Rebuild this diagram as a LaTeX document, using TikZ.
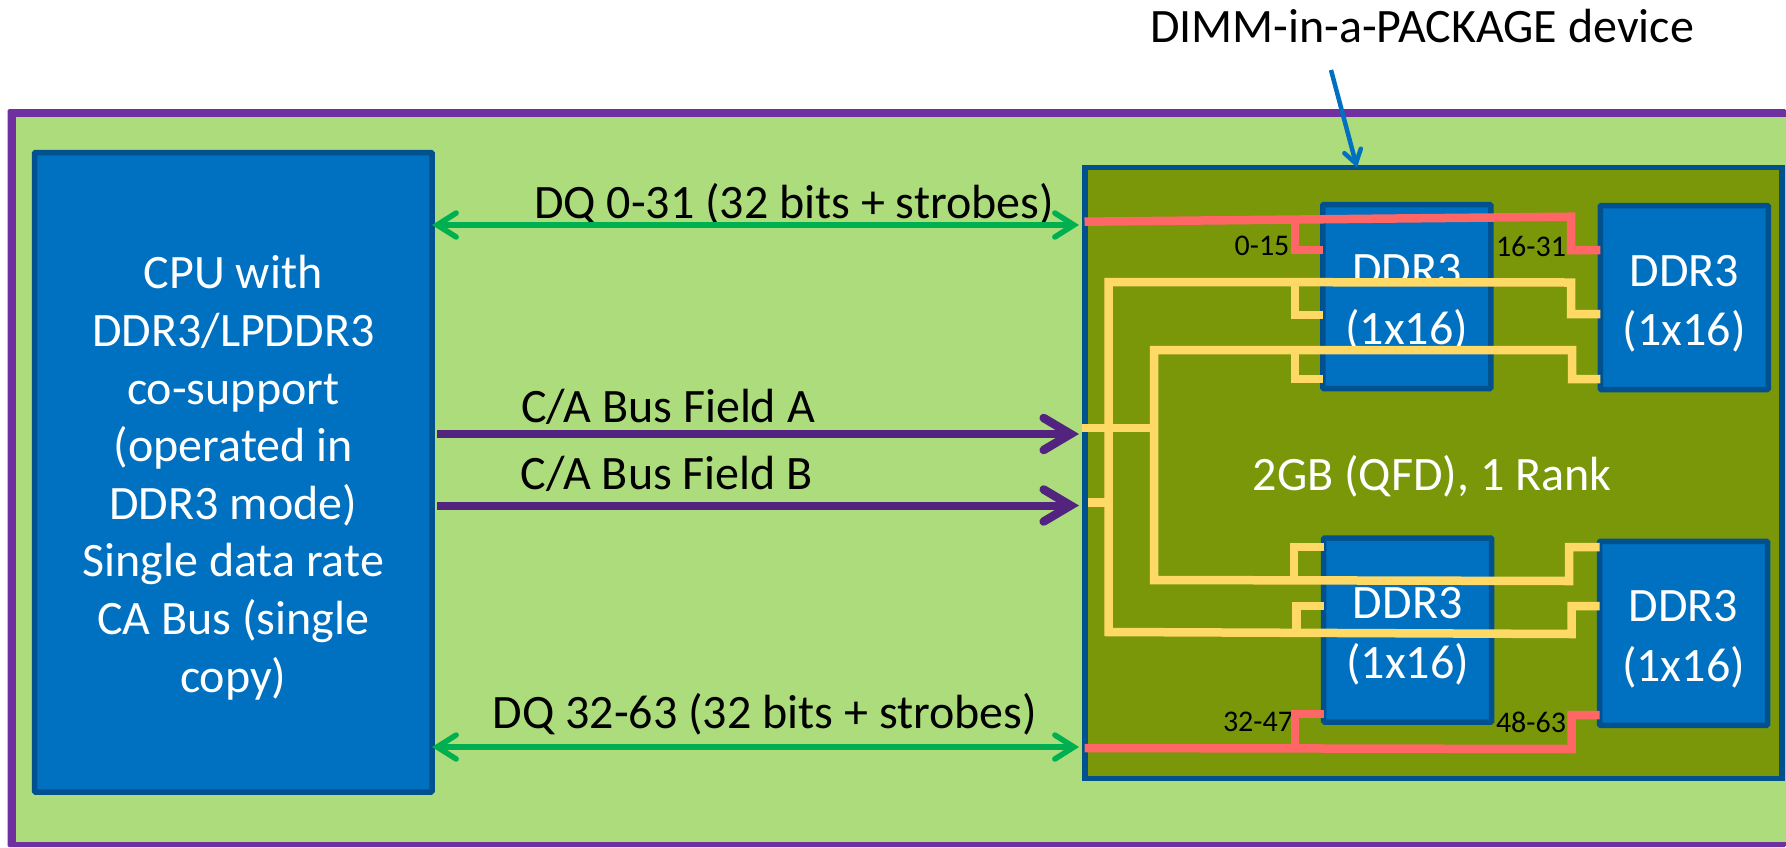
\documentclass[tikz,border=0pt]{standalone}
\usepackage{fontspec}
\setmainfont{Carlito}
\usetikzlibrary{arrows.meta}
\definecolor{bgreen}{HTML}{ACDC7B}
\definecolor{bpurple}{HTML}{7030A0}
\definecolor{cblue}{HTML}{0070C0}
\definecolor{cedge}{HTML}{00518E}
\definecolor{olive}{HTML}{7A970A}
\definecolor{redbus}{HTML}{FF6666}
\definecolor{yelbus}{HTML}{FFD966}
\definecolor{dqgreen}{HTML}{00B050}
\definecolor{cagray}{HTML}{522480}
\tikzset{
  chip/.style={draw=cedge,fill=cblue,line width=5.5pt,rounded corners=1pt,outer sep=0pt,inner sep=0pt},
  chiptext/.style={inner sep=0pt,text=white,align=center,font=\fontsize{48}{57.6}\selectfont,yshift=-5.5pt},
  ddrtext/.style={inner sep=0pt,text=white,align=center,font=\fontsize{48}{59.5}\selectfont,yshift=-6pt},
  ddr/.style={chip,minimum width=168pt,minimum height=184pt},
  lbl/.style={inner sep=0pt,font=\fontsize{48}{58}\selectfont,text=black},
  small/.style={inner sep=0pt,font=\fontsize{30}{36}\selectfont,text=black},
  redline/.style={draw=redbus,line width=8.5pt},
  yelline/.style={draw=yelbus,line width=8.5pt},
  dqarrow/.style={draw=dqgreen,line width=5.5pt,line cap=butt,shorten >=6pt,{Straight Barb[length=19pt,width=24pt,line width=5.5pt,line cap=round]}-{Straight Barb[length=19pt,width=24pt,line width=5.5pt,line cap=round]}},
  caarrow/.style={draw=cagray,line width=8pt,line cap=butt,shorten >=6pt,-{Straight Barb[length=27pt,width=32pt,line width=8.5pt,line cap=round]}},
  ptr/.style={draw=cblue,line width=4.5pt,-{Straight Barb[length=13pt,width=17pt,line width=4.5pt,line cap=round]}}
}
\begin{document}
\begin{tikzpicture}[x=1pt,y=-1pt]
\path[use as bounding box] (0,0) rectangle (1786,847);
% outer panel
\fill[bpurple,rounded corners=1.5pt] (7.5,109) rectangle (1786,847);
\fill[bgreen] (15.5,116.7) rectangle (1786,841.7);
% blocks
\node[chip,minimum width=397.5pt,minimum height=639.5pt] (cpu) at (233.25,472.25) {};
\node[chiptext] (cput) at (cpu) {CPU with\\DDR3/LPDDR3\\co-support\\(operated in\\DDR3 mode)\\Single data rate\\CA Bus (single\\copy)};
\node[draw=cedge,fill=olive,line width=5.5pt,outer sep=0pt,minimum width=697pt,minimum height=611pt] (dev) at (1433.5,473) {};
\node[ddr] (d1) at (1406.75,296.5) {};
\node[ddr] (d2) at (1684.25,297.5) {};
\node[ddr] (d3) at (1407.7,630) {};
\node[ddr] (d4) at (1683.5,633.25) {};
\node[ddrtext] (d1t) at (d1) {DDR3\\(1x16)};
\node[ddrtext] (d2t) at (d2) {DDR3\\(1x16)};
\node[ddrtext] (d3t) at (d3) {DDR3\\(1x16)};
\node[ddrtext] (d4t) at (d4) {DDR3\\(1x16)};
% texts
\node[lbl] (title) at (1422,26) {DIMM-in-a-PACKAGE device};
\node[lbl,text=white] (cap) at (1432,476) {2GB (QFD), 1 Rank};
\node[lbl] (l1) at (794,204) {DQ 0-31 (32 bits + strobes)};
\node[lbl] (l2) at (668,407) {C/A Bus Field A};
\node[lbl] (l3) at (667,474) {C/A Bus Field B};
\node[lbl] (l4) at (765,714) {DQ 32-63 (32 bits + strobes)};
\node[small] (n1) at (1262,246) {0-15};
\node[small] (n2) at (1531,246) {16-31};
\node[small] (n3) at (1258,722) {32-47};
\node[small] (n4) at (1531,722) {48-63};
% bus ports on the device edge
\coordinate (pa) at (1084.5,221.7);
\coordinate (pb) at (1084.5,748);
% arrows
\coordinate (t1) at (1331,70);
\draw[ptr] (t1) -- (dev.north -| 1357,0);
\draw[dqarrow] (cpu.east |- 0,225) -- (dev.west |- 0,225);
\draw[dqarrow] (cpu.east |- 0,747) -- (dev.west |- 0,747);
\draw[caarrow] ([xshift=5pt]cpu.east |- 0,434) -- (dev.west |- 0,434);
\draw[caarrow] ([xshift=5pt]cpu.east |- 0,505.5) -- (dev.west |- 0,505.5);
% red data nets
\draw[redline] (pa) -- (1571,216.7) -- (1571,250) -- (d2.west |- 0,250);
\draw[redline] (1295,219) -- (1295,250) -- (d1.west |- 0,250);
\draw[redline] (pb) -- (1571.5,749) -- (1571.5,715) -- (d4.west |- 0,715);
\draw[redline] (1295,748.5) -- (1295,714) -- (d3.west |- 0,714);
% yellow command nets
\coordinate (ca) at (1082,428);
\coordinate (cb) at (1088,502.3);
\draw[yelline] (ca) -- (1154,428);
\draw[yelline] (cb) -- (1108.5,502.3);
\draw[yelline] (d2.west |- 0,314) -- (1571,314) -- (1571,282.5) -- (1108.5,282) -- (1108.5,632) -- (1571.5,634) -- (1571.5,606) -- (d4.west |- 0,606);
\draw[yelline] (1295,282) -- (1295,315) -- (d1.west |- 0,315);
\draw[yelline] (1296.5,633) -- (1296.5,606) -- (d3.west |- 0,606);
\draw[yelline] (d2.west |- 0,379) -- (1572,379) -- (1572,350) -- (1154,350) -- (1154,580) -- (1569,581) -- (1569,547) -- (d4.west |- 0,547);
\draw[yelline] (1295,350) -- (1295,379) -- (d1.west |- 0,379);
\draw[yelline] (1294,580) -- (1294,547) -- (d3.west |- 0,547);
\end{tikzpicture}
\end{document}
